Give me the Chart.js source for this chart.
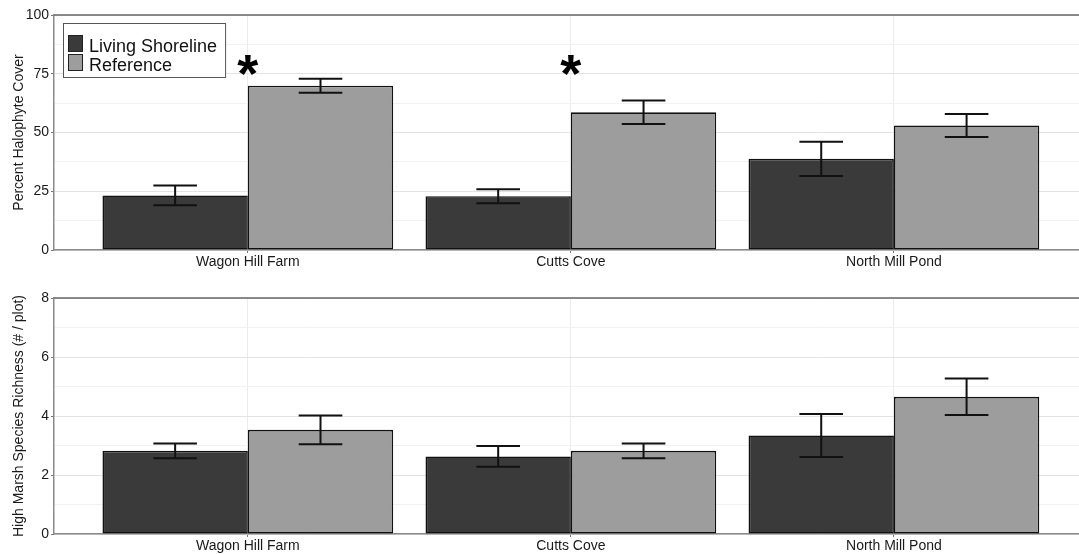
<!DOCTYPE html>
<html>
<head>
<meta charset="utf-8">
<script src="https://cdn.jsdelivr.net/npm/chart.js@4.4.1/dist/chart.umd.min.js"></script>
<style>
  html, body { margin: 0; padding: 0; background: #fff; overflow: hidden; }
  .panel { position: absolute; left: 0; width: 1079px; height: 277px; }
  #coverPanel { top: 0; }
  #richPanel { top: 277px; }
</style>
</head>
<body>
<div class="panel" id="coverPanel"><canvas id="cover" width="1079" height="277"></canvas></div>
<div class="panel" id="richPanel"><canvas id="rich" width="1079" height="277"></canvas></div>
<script>
// Sites and treatments
const sites = ['Wagon Hill Farm', 'Cutts Cove', 'North Mill Pond'];
const seriesNames = ['Living Shoreline', 'Reference'];

// Percent halophyte cover (mean and standard error)
const coverLiving = [23.2, 22.9, 38.8];
const coverLivingSE = [4.2, 3.0, 7.3];
const coverReference = [69.9, 58.6, 53.0];
const coverReferenceSE = [3.0, 5.0, 4.9];

// High marsh species richness, # per plot (mean and standard error)
const richLiving = [2.82, 2.63, 3.34];
const richLivingSE = [0.25, 0.35, 0.73];
const richReference = [3.53, 2.82, 4.65];
const richReferenceSE = [0.49, 0.25, 0.62];

// Labelled y ticks for each panel
const coverTicks = [0, 25, 50, 75, 100];
const richTicks = [0, 2, 4, 6, 8];

// Sites where the two treatments differ significantly, and the height of the marker
const coverSignificant = [0, 1];
const starLevel = 78.5;

const FONT = '"Liberation Sans", Arial, Helvetica, sans-serif';
const DARK = '#3a3a3a';
const LIGHT = '#9d9d9d';
Chart.defaults.font.family = FONT;

// Vertical standard-error bars with caps, centred on each bar
const errorBarPlugin = {
  id: 'errorBars',
  afterDatasetsDraw(chart) {
    const { ctx } = chart;
    const y = chart.scales.y;
    chart.data.datasets.forEach((ds, di) => {
      const meta = chart.getDatasetMeta(di);
      meta.data.forEach((bar, i) => {
        const v = ds.data[i].y, e = ds.errors[i];
        const top = y.getPixelForValue(v + e);
        const bot = y.getPixelForValue(v - e);
        const half = bar.width * 0.15;
        ctx.save();
        ctx.strokeStyle = '#111';
        ctx.lineWidth = 2;
        ctx.beginPath();
        ctx.moveTo(bar.x, top); ctx.lineTo(bar.x, bot);
        ctx.moveTo(bar.x - half, top); ctx.lineTo(bar.x + half, top);
        ctx.moveTo(bar.x - half, bot); ctx.lineTo(bar.x + half, bot);
        ctx.stroke();
        ctx.restore();
      });
    });
  }
};

// Top edge of the panel frame
const framePlugin = {
  id: 'panelFrame',
  afterDatasetsDraw(chart) {
    const { ctx, chartArea } = chart;
    ctx.save();
    ctx.strokeStyle = '#666';
    ctx.lineWidth = 1.5;
    ctx.beginPath();
    ctx.moveTo(chartArea.left, chartArea.top);
    ctx.lineTo(chart.width, chartArea.top);
    ctx.stroke();
    ctx.restore();
  }
};

// Boxed legend inside the plotting area
const boxLegendPlugin = {
  id: 'boxLegend',
  afterDraw(chart, args, o) {
    if (!o.show) return;
    const { ctx, chartArea } = chart;
    const names = chart.data.datasets.map(d => d.label);
    const colors = chart.data.datasets.map(d => d.backgroundColor);
    ctx.save();
    ctx.font = '18px ' + FONT;
    const tw = Math.max(...names.map(n => ctx.measureText(n).width));
    const sw = 15, sh = 17, row = 19, padL = 5, gap = 6, padT = 12, padB = 6;
    const x0 = chartArea.left + 9, y0 = chartArea.top + 8;
    const w = padL + sw + gap + tw + 8;
    const h = padT + row * names.length - 2 + padB;
    ctx.fillStyle = '#fff';
    ctx.fillRect(x0, y0, w, h);
    ctx.strokeStyle = '#555';
    ctx.lineWidth = 1;
    ctx.strokeRect(x0 + 0.5, y0 + 0.5, w, h);
    names.forEach((n, i) => {
      const sy = y0 + padT + i * row;
      ctx.fillStyle = colors[i];
      ctx.fillRect(x0 + padL, sy, sw, sh);
      ctx.strokeStyle = '#222';
      ctx.strokeRect(x0 + padL + 0.5, sy + 0.5, sw - 1, sh - 1);
      ctx.fillStyle = '#111';
      ctx.textBaseline = 'alphabetic';
      ctx.textAlign = 'left';
      ctx.fillText(n, x0 + padL + sw + gap, sy + sh);
    });
    ctx.restore();
  }
};

// Significance asterisks above the site centres
const starPlugin = {
  id: 'sigStars',
  afterDraw(chart, args, o) {
    if (!o.sites || !o.sites.length) return;
    const { ctx } = chart;
    ctx.save();
    ctx.font = 'bold 54px ' + FONT;
    ctx.fillStyle = '#000';
    ctx.textAlign = 'left';
    ctx.textBaseline = 'alphabetic';
    const m = ctx.measureText('*');
    const gw = m.actualBoundingBoxRight + m.actualBoundingBoxLeft;
    o.sites.forEach(i => {
      const cx = chart.scales.x.getPixelForValue(i);
      const cy = chart.scales.y.getPixelForValue(o.level);
      const bx = cx - gw / 2 + m.actualBoundingBoxLeft;
      const by = cy + (m.actualBoundingBoxAscent - m.actualBoundingBoxDescent) / 2;
      ctx.fillText('*', bx, by);
    });
    ctx.restore();
  }
};

function makePanel(id, living, livingSE, reference, referenceSE, ticks, title, cfg) {
  const toPoints = arr => arr.map((v, i) => ({ x: i, y: v }));
  const step = ticks[1] - ticks[0];
  const barStyle = {
    borderColor: '#111',
    borderWidth: 1.6,
    borderSkipped: false,
    categoryPercentage: 0.9,
    barPercentage: 1.0
  };
  return new Chart(document.getElementById(id), {
    type: 'bar',
    data: {
      datasets: [
        Object.assign({ label: seriesNames[0], data: toPoints(living), errors: livingSE, backgroundColor: DARK }, barStyle),
        Object.assign({ label: seriesNames[1], data: toPoints(reference), errors: referenceSE, backgroundColor: LIGHT }, barStyle)
      ]
    },
    options: {
      responsive: false,
      animation: false,
      layout: { padding: { top: cfg.padTop, left: 0, right: 0, bottom: 0 } },
      plugins: {
        legend: { display: false },
        tooltip: { enabled: false },
        boxLegend: { show: cfg.legend },
        sigStars: { sites: cfg.stars || [], level: starLevel }
      },
      scales: {
        x: {
          type: 'linear',
          bounds: 'data',
          offset: false,
          min: -0.6,
          max: 2.573,
          afterBuildTicks: s => { s.ticks = sites.map((_, i) => ({ value: i })); },
          afterFit: s => { s.height = cfg.xHeight; },
          ticks: {
            callback: v => sites[v],
            autoSkip: false,
            maxRotation: 0,
            padding: cfg.labelPad,
            color: '#1a1a1a',
            font: { size: 14 }
          },
          grid: { offset: false, color: '#ebebeb', lineWidth: 1, tickLength: 3, tickColor: '#777' },
          border: { color: '#8a8a8a', width: 1.5 }
        },
        y: {
          type: 'linear',
          min: ticks[0],
          max: ticks[ticks.length - 1],
          afterBuildTicks: s => {
            const out = [];
            ticks.forEach((t, i) => {
              out.push({ value: t, isMajor: true });
              if (i < ticks.length - 1) out.push({ value: t + step / 2, isMajor: false });
            });
            s.ticks = out;
          },
          afterFit: s => { s.width = 54; },
          ticks: {
            callback: (v, i, arr) => (arr[i].isMajor ? String(v) : ''),
            autoSkip: false,
            padding: 2,
            color: '#1a1a1a',
            font: { size: 14 }
          },
          grid: {
            color: c => (c.tick && c.tick.isMajor ? '#e3e3e3' : '#f2f2f2'),
            lineWidth: 1,
            tickLength: 3,
            tickColor: c => (c.tick && c.tick.isMajor ? '#777' : 'rgba(0,0,0,0)')
          },
          border: { color: '#8a8a8a', width: 1.5 },
          title: {
            display: true,
            text: title,
            color: '#1a1a1a',
            font: { size: 14 },
            padding: { top: 10.5, bottom: 0 }
          }
        }
      }
    },
    plugins: [framePlugin, errorBarPlugin, boxLegendPlugin, starPlugin]
  });
}

makePanel('cover', coverLiving, coverLivingSE, coverReference, coverReferenceSE, coverTicks,
  'Percent Halophyte Cover', { padTop: 15, xHeight: 27, labelPad: 1, legend: true, stars: coverSignificant });

makePanel('rich', richLiving, richLivingSE, richReference, richReferenceSE, richTicks,
  'High Marsh Species Richness (# / plot)', { padTop: 21, xHeight: 20, labelPad: 1, legend: false });
</script>
</body>
</html>
